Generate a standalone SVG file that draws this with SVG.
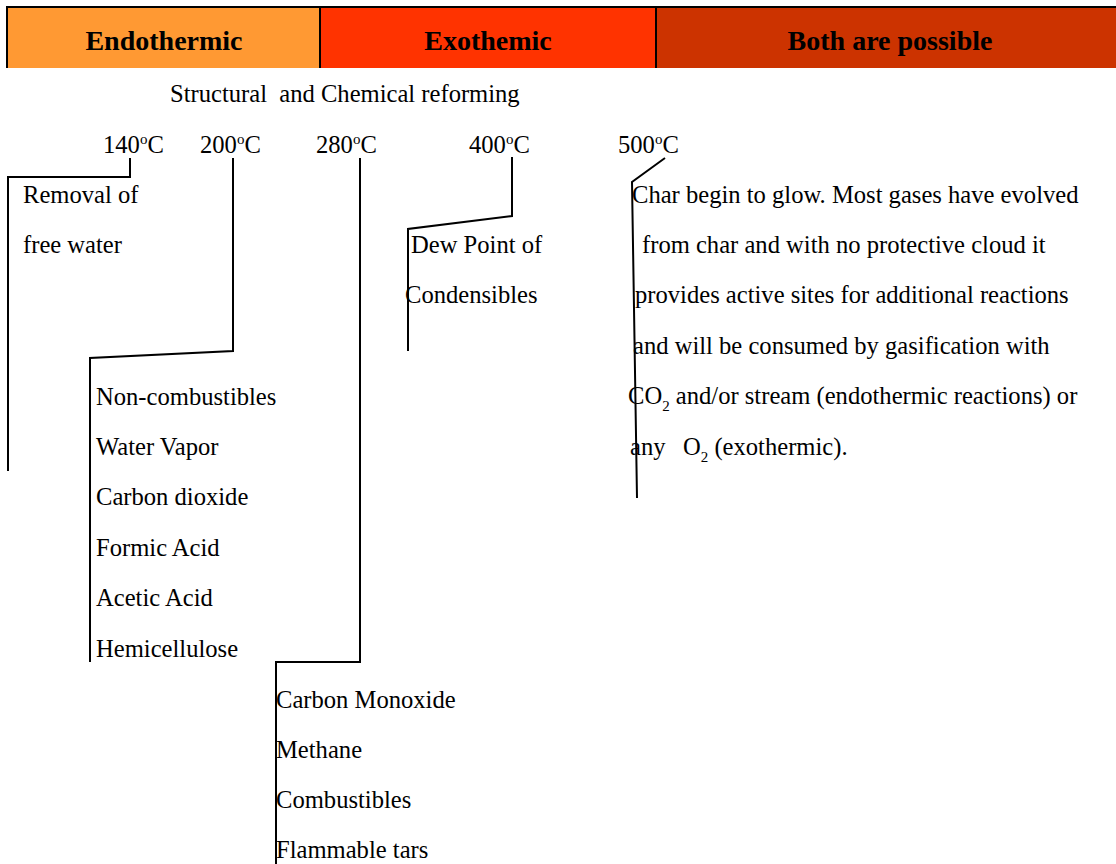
<svg xmlns="http://www.w3.org/2000/svg" width="1116" height="864" viewBox="0 0 1116 864">
<style>
.t{font-family:"Liberation Serif","Times New Roman",serif;font-size:24.6px;fill:#000}
.h{font-family:"Liberation Serif","Times New Roman",serif;font-size:28px;font-weight:bold;fill:#000;text-anchor:middle}
.ln{fill:none;stroke:#000;stroke-width:2}
.sup{font-size:15px}
</style>
<rect width="1116" height="864" fill="#fff"/>
<g id="header">
<rect x="7" y="7" width="313" height="61" fill="#FF9933"/>
<rect x="320" y="7" width="336" height="61" fill="#FF3300"/>
<rect x="656" y="7" width="460" height="61" fill="#CC3300"/>
<path class="ln" d="M7,68 V7 H1116 M320,7 V68 M656,7 V68"/>
<text class="h" x="164" y="50">Endothermic</text>
<text class="h" x="488" y="50">Exothemic</text>
<text class="h" x="890" y="50">Both are possible</text>
</g>
<g id="title"><text class="t" x="170" y="102">Structural&#160; and Chemical reforming</text></g>
<g id="temps">
<text id="t140" class="t" x="103" y="153">140<tspan class="sup" dy="-9">o</tspan><tspan dy="9">C</tspan></text>
<text id="t200" class="t" x="200" y="153">200<tspan class="sup" dy="-9">o</tspan><tspan dy="9">C</tspan></text>
<text id="t280" class="t" x="316" y="153">280<tspan class="sup" dy="-9">o</tspan><tspan dy="9">C</tspan></text>
<text id="t400" class="t" x="469" y="153">400<tspan class="sup" dy="-9">o</tspan><tspan dy="9">C</tspan></text>
<text id="t500" class="t" x="618" y="153">500<tspan class="sup" dy="-9">o</tspan><tspan dy="9">C</tspan></text>
</g>
<g id="connectors">
<path class="ln" d="M130,158 V177 H8 V471"/>
<path class="ln" d="M233,158 V351 L90,358 V662"/>
<path class="ln" d="M360,158 V662 H276 V864"/>
<path class="ln" d="M512,157 V216 L408,229 V351"/>
<path class="ln" d="M665,158 L632,182 L637,498"/>
</g>
<g id="n140">
<text class="t" x="23" y="203">Removal of</text>
<text class="t" x="23" y="253">free water</text>
</g>
<g id="n200">
<text class="t" x="96" y="405">Non-combustibles</text>
<text class="t" x="96" y="455">Water Vapor</text>
<text class="t" x="96" y="505">Carbon dioxide</text>
<text class="t" x="96" y="556">Formic Acid</text>
<text class="t" x="96" y="606">Acetic Acid</text>
<text class="t" x="96" y="657">Hemicellulose</text>
</g>
<g id="n280">
<text class="t" x="276" y="708">Carbon Monoxide</text>
<text class="t" x="276" y="758">Methane</text>
<text class="t" x="276" y="808">Combustibles</text>
<text class="t" x="276" y="858">Flammable tars</text>
</g>
<g id="n400">
<text class="t" x="411" y="253">Dew Point of</text>
<text class="t" x="405" y="303">Condensibles</text>
</g>
<g id="n500">
<text class="t" x="632" y="203">Char begin to glow. Most gases have evolved</text>
<text class="t" x="642" y="253">from char and with no protective cloud it</text>
<text class="t" x="635" y="303">provides active sites for additional reactions</text>
<text class="t" x="633" y="354">and will be consumed by gasification with</text>
<text class="t" x="628" y="404">CO<tspan class="sup" dy="7">2</tspan><tspan dy="-7"> and/or stream (endothermic reactions) or</tspan></text>
<text class="t" x="630" y="455">any<tspan x="683">O</tspan><tspan class="sup" dy="7">2</tspan><tspan dy="-7"> (exothermic).</tspan></text>
</g>
</svg>
